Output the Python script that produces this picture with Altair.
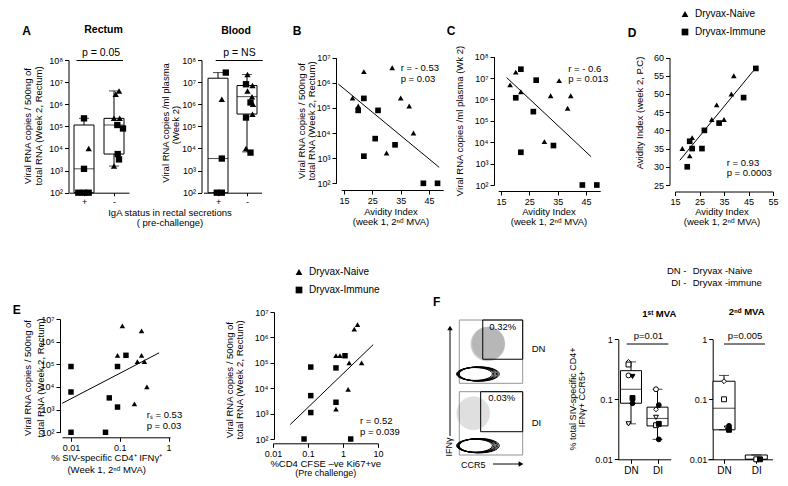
import altair as alt
import pandas as pd

FONT = "Liberation Sans"
W, H = 772, 470
MARGIN = 8


def px(v):
    return v - MARGIN


N = "Dryvax-Naive"
I = "Dryvax-Immune"

# ---------------- data ----------------
# Panel A - Rectum (box stats and points)
a_cats = ["+", "-"]
ar_q1 = [1e2, 5.6e3]
ar_med = [1.2e3, 1.15e5]
ar_q3 = [1.15e5, 2.3e5]
ar_lo = [1e2, 1.6e3]
ar_hi = [2.3e5, 4e6]
ar_pt_cat = ["+"] * 6 + ["-"] * 9
ar_pt_val = [2.3e5, 1e4, 1.2e3, 1e2, 1e2, 1e2,
             4e6, 2.8e6, 2.3e5, 2.3e5, 1.15e5, 8e4, 5.6e3, 3.2e3, 1.6e3]
ar_pt_grp = [I, N, I, I, I, I, N, N, N, N, I, I, I, I, N]
ar_pt_jit = [0, 0.47, 0, -0.57, 0, 0.47, 0.5, 0.17, 0, 0.57, 0.33, 0.9, 0.37, 0.5, 0]

# Panel A - Blood
ab_q1 = [1e2, 3.6e5]
ab_med = [3.5e3, 2.2e6]
ab_q3 = [1.5e7, 7e6]
ab_lo = [1e2, 7e3]
ab_hi = [2.7e7, 2.2e7]
ab_pt_cat = ["+"] * 5 + ["-"] * 11
ab_pt_val = [2.7e7, 1.7e6, 3.5e3, 1e2, 1e2,
             2.2e7, 8e6, 7e6, 4e6, 2.2e6, 1.2e6, 1e6, 3.5e5, 2.5e5, 1e4, 6.5e3]
ab_pt_grp = [I, N, I, I, I, N, I, N, N, N, I, N, N, I, N, I]
ab_pt_jit = [0.78, 0.38, 0.38, -0.12, 0.38, 0.05, -0.1, 0.55, 0.05, 0.5, 0.35, 0.6, 0.55, -0.1, -0.1, 0.35]

# Panel B
b_x = [22, 32, 18, 22, 20, 20, 27, 35, 38, 39.5, 26, 33, 30, 22, 43, 48]
b_y = [2.8e6, 4e6, 2.5e5, 2.4e5, 1.2e5, 8e4, 8e4, 2.5e5, 1.2e5, 1e4, 6e3, 3.4e3, 1.6e3, 1.2e3, 1e2, 1e2]
b_g = [N, N, N, I, N, I, I, N, N, N, I, I, N, I, I, I]
b_fit_x = [13, 48.6]
b_fit_y = [8.9e5, 4.3e2]

# Panel C
c_x = [18.2, 20.2, 22, 20.2, 22, 27.4, 35.5, 32.5, 39.6, 38.5, 26.4, 30.3, 33.5, 22, 43.7, 48.8]
c_y = [4.8e6, 1.9e7, 2.6e7, 1.2e6, 2.3e6, 8e6, 7.6e6, 1.5e6, 1.5e6, 3.9e5, 2.7e5, 1.07e4, 7e3, 3.4e3, 1e2, 1e2]
c_g = [N, N, I, I, N, I, N, N, N, N, I, N, I, I, I, I]
c_fit_x = [17, 46.8]
c_fit_y = [1.05e7, 2.1e3]

# Panel D
d_x = [48, 39, 38, 43, 32, 30, 35, 33, 27, 21, 22, 18, 22, 26, 21, 20]
d_y = [57, 55, 50, 49, 47, 43, 43, 42, 40, 37, 38, 35, 35, 35, 33, 30]
d_g = [I, N, N, I, N, N, N, I, I, I, N, N, I, I, N, I]
d_fit_x = [17, 47.3]
d_fit_y = [31.8, 56.6]

# Panel E (left)
e1_x = [0.01, 0.01, 0.01, 0.051, 0.061, 0.09, 0.09, 0.134, 0.09, 0.113, 0.28, 0.28, 0.23, 0.32, 0.36, 0.2]
e1_y = [8e4, 6e3, 1e2, 1e2, 3.3e3, 1.3e3, 8e4, 2.5e5, 2.5e5, 5e6, 3e6, 2.5e5, 1.3e5, 1.3e5, 1e4, 1.8e3]
e1_g = [I, I, I, I, I, I, I, I, N, N, N, N, N, N, N, N]
e1_fit_x = [0.0066, 0.64]
e1_fit_y = [1.9e3, 3.2e5]

# Panel E (right)
e2_x = [0.077, 1.66, 0.12, 0.12, 0.12, 0.63, 0.63, 0.63, 0.63, 0.82, 1.14, 1.5, 3.4, 1.4, 2.1, 2.6]
e2_y = [1e2, 1e2, 6.8e4, 5.1e3, 1.1e3, 6.3e4, 2.8e3, 1.5e3, 1.9e5, 1.9e5, 1.9e5, 1e5, 1e5, 9e3, 2.1e6, 3.2e6]
e2_g = [I, I, I, I, I, I, I, N, N, N, I, N, N, N, N, N]
e2_fit_x = [0.031, 7.3]
e2_fit_y = [3.7e2, 5.2e5]

# Panel F - box plots
f_cats = ["DN", "DI"]
f1_q1 = [0.086, 0.036]
f1_med = [0.147, 0.048]
f1_q3 = [0.30, 0.074]
f1_lo = [0.039, 0.0215]
f1_hi = [0.42, 0.147]
f1_pt_cat = ["DN"] * 7 + ["DI"] * 7
f1_pt_val = [0.42, 0.38, 0.25, 0.24, 0.105, 0.086, 0.039,
             0.147, 0.08, 0.068, 0.05, 0.037, 0.039, 0.0215]
f1_pt_sym = ["2", "4", "1", "3", "4", "1", "3", "1", "1", "2", "3", "4", "4", "1"]
f1_pt_fill = ["open", "open", "open", "filled", "filled", "filled", "open",
              "open", "filled", "open", "open", "open", "filled", "filled"]
f1_pt_jit = [-0.25, -0.25, -0.25, 0.15, 0.15, 0.15, -0.25, -0.15, 0.13, -0.15, -0.15, -0.15, 0.13, 0.13]

f2_q1 = [0.031, 0.01]
f2_med = [0.071, 0.01]
f2_q3 = [0.2, 0.0118]
f2_lo = [0.031, 0.01]
f2_hi = [0.25, 0.0118]
f2_pt_cat = ["DN"] * 5 + ["DI"] * 2
f2_pt_val = [0.2, 0.1, 0.033, 0.036, 0.031, 0.01, 0.01]
f2_pt_sym = ["2", "4", "3", "1", "4", "4", "4"]
f2_pt_fill = ["open", "open", "open", "filled", "filled", "open", "filled"]
f2_pt_jit = [0, 0, 0.27, 0.5, 0.5, 0, 0.37]

# Panel F - flow plots (units 0-100 on both axes)
flow_gate_x0 = [37, 33.7]
flow_gate_y0 = [38, 36.8]
flow_cont_x = [31.5, 30, 28.5, 27, 25.5, 24]
flow_cont_y = [14.7, 14.7, 14.7, 14.7, 14.7, 14.7]
flow_cont_lvl = ["k1", "k2", "k3", "k4", "k5", "k6"]
flow_cloud_top_x = [45, 45, 46]
flow_cloud_top_y = [62, 62, 63]
flow_cloud_bot_x = [22, 22]
flow_cloud_bot_y = [66, 66]
flow_cloud_lvl = ["c1", "c2", "c3"]

# ---------------- helpers ----------------
dummy = pd.DataFrame({"d": [0]})
SHAPE_AE = alt.Scale(domain=[N, I], range=["triangle-up", "square"])
F_SHAPE = alt.Scale(domain=["1", "2", "3", "4"], range=["circle", "diamond", "triangle-down", "square"])
F_FILL = alt.Scale(domain=["open", "filled"], range=["white", "black"])
JIT = alt.Scale(domain=[-1, 1], range=[-10, 10])
ELLIPSE = "M -1 0 A 1 0.36 0 1 0 1 0 A 1 0.36 0 1 0 -1 0 Z"
SIZE_SCALE = alt.Scale(domain=["k1", "k2", "k3", "k4", "k5", "k6", "c1", "c2", "c3"],
                       range=[1600, 1089, 676, 361, 144, 36, 260, 110, 30])
POW = "'10' + ['⁰','¹','²','³','⁴','⁵','⁶','⁷','⁸','⁹'][round(log(datum.value) / LN10)]"


def T(s, x, y, size=9.5, bold=False, align="center", angle=0):
    return alt.Chart(dummy).mark_text(
        text=s, fontSize=size, fontWeight="bold" if bold else "normal",
        align=align, baseline="middle", angle=angle, font=FONT, color="black"
    ).encode(x=alt.value(px(x)), y=alt.value(px(y)))


def R(x1, x2, y1, y2):
    return alt.Chart(dummy).mark_rule(color="black", strokeWidth=1).encode(
        x=alt.value(px(x1)), x2=alt.value(px(x2)), y=alt.value(px(y1)), y2=alt.value(px(y2)))


def yax(xpos, values, expr=None, fmt=None):
    kw = dict(orient="left", offset=-px(xpos), values=values, title=None, labelFlush=False)
    if expr:
        kw["labelExpr"] = expr
    if fmt:
        kw["format"] = fmt
    return alt.Axis(**kw)


def xax(ypos, values=None, fmt=None, size=9, tick=4):
    kw = dict(orient="bottom", offset=px(ypos) - H, title=None, labelFlush=False, labelAngle=0,
              labelFontSize=size, tickSize=tick)
    if values is not None:
        kw["values"] = values
    if fmt:
        kw["format"] = fmt
    return alt.Axis(**kw)


def logs(domain, r):
    return alt.Scale(type="log", domain=domain, range=[px(r[0]), px(r[1])], nice=False)


def lins(domain, r):
    return alt.Scale(type="linear", domain=domain, range=[px(r[0]), px(r[1])], nice=False, zero=False)


def pts(domain, r):
    return alt.Scale(type="point", domain=domain, range=[px(r[0]), px(r[1])], padding=0.5)


def box_panel(cats, q1, med, q3, lo, hi, pdf, xs, ys, xa, ya, bw, cap, kind):
    bdf = pd.DataFrame({"cat": cats, "q1": q1, "med": med, "q3": q3, "lo": lo, "hi": hi})
    X = alt.X("cat:N", scale=xs, axis=xa)

    def Y(f):
        return alt.Y(f + ":Q", scale=ys, axis=ya)

    base = alt.Chart(bdf)
    layers = [
        base.mark_rule(color="black", strokeWidth=1).encode(x=X, y=Y("q3"), y2="hi:Q"),
        base.mark_rule(color="black", strokeWidth=1).encode(x=X, y=Y("lo"), y2="q1:Q"),
        base.mark_bar(size=bw, fill="white", stroke="black", strokeWidth=1).encode(x=X, y=Y("q1"), y2="q3:Q"),
        base.mark_tick(orient="horizontal", size=bw, thickness=1, color="black").encode(x=X, y=Y("med")),
        base.mark_tick(orient="horizontal", size=cap, thickness=1, color="black").encode(x=X, y=Y("hi")),
        base.mark_tick(orient="horizontal", size=cap, thickness=1, color="black").encode(x=X, y=Y("lo")),
    ]
    if kind == "ae":
        p = alt.Chart(pdf).mark_point(filled=True, color="black", size=40, opacity=1).encode(
            x=X, xOffset=alt.XOffset("j:Q", scale=JIT), y=Y("v"),
            shape=alt.Shape("g:N", scale=SHAPE_AE, legend=None))
    else:
        p = alt.Chart(pdf).mark_point(size=24, stroke="black", strokeWidth=1, opacity=1).encode(
            x=X, xOffset=alt.XOffset("j:Q", scale=JIT), y=Y("v"),
            shape=alt.Shape("s:N", scale=F_SHAPE, legend=None),
            fill=alt.Fill("f:N", scale=F_FILL, legend=None))
    layers.append(p)
    return alt.layer(*layers)


def scatter_panel(x, y, g, fx, fy, xs, ys, xa, ya, size, legend):
    df = pd.DataFrame({"x": x, "y": y, "g": g})
    ldf = pd.DataFrame({"x": fx, "y": fy})
    X = alt.X("x:Q", scale=xs, axis=xa)
    Y = alt.Y("y:Q", scale=ys, axis=ya)
    line = alt.Chart(ldf).mark_line(color="black", strokeWidth=1).encode(x=X, y=Y)
    shp = alt.Shape("g:N", scale=SHAPE_AE, legend=legend) if legend is not None else \
        alt.Shape("g:N", scale=SHAPE_AE, legend=None)
    p = alt.Chart(df).mark_point(filled=True, color="black", size=size, opacity=1).encode(x=X, y=Y, shape=shp)
    return alt.layer(line, p)


def legend_at(x, y):
    return alt.Legend(orient="none", legendX=px(x), legendY=px(y), title=None, labelFont=FONT,
                      labelFontSize=10, labelColor="black", symbolSize=45, symbolFillColor="black",
                      symbolStrokeColor="black", rowPadding=5, labelOffset=5)


def flow_panel(yr, gx0, gy0, cloud_x, cloud_y, cloud_lvl, cloud_op):
    xs = lins([0, 100], [459.3, 522.7])
    ys = lins([0, 100], yr)
    X = lambda f: alt.X(f + ":Q", scale=xs, axis=None)
    Y = lambda f: alt.Y(f + ":Q", scale=ys, axis=None)
    frame = alt.Chart(pd.DataFrame({"x0": [0], "x1": [100], "y0": [0], "y1": [100]})).mark_rect(
        fillOpacity=0, stroke="#777", strokeWidth=0.8).encode(x=X("x0"), x2="x1:Q", y=Y("y0"), y2="y1:Q")
    cloud = alt.Chart(pd.DataFrame({"x": cloud_x, "y": cloud_y, "lvl": cloud_lvl})).mark_point(
        shape="circle", filled=True, color="#777", opacity=cloud_op).encode(
        x=X("x"), y=Y("y"), size=alt.Size("lvl:O", scale=SIZE_SCALE, legend=None))
    cont = alt.Chart(pd.DataFrame({"x": flow_cont_x, "y": flow_cont_y, "lvl": flow_cont_lvl})).mark_point(
        shape=ELLIPSE, filled=False, color="black", strokeWidth=1, opacity=1).encode(
        x=X("x"), y=Y("y"), size=alt.Size("lvl:O", scale=SIZE_SCALE, legend=None))
    gate = alt.Chart(pd.DataFrame({"x0": [gx0], "x1": [100], "y0": [gy0], "y1": [100]})).mark_rect(
        fillOpacity=0, stroke="black", strokeWidth=1).encode(x=X("x0"), x2="x1:Q", y=Y("y0"), y2="y1:Q")
    return alt.layer(frame, cloud, cont, gate)


layers = []

# ---- Panel A ----
ar_pdf = pd.DataFrame({"cat": ar_pt_cat, "v": ar_pt_val, "g": ar_pt_grp, "j": ar_pt_jit})
layers.append(box_panel(a_cats, ar_q1, ar_med, ar_q3, ar_lo, ar_hi, ar_pdf,
                        pts(a_cats, [69, 129]), logs([1e2, 1e8], [192.7, 60]),
                        xax(192.7, size=9, tick=3), yax(68.5, [1e2, 1e3, 1e4, 1e5, 1e6, 1e7, 1e8], POW),
                        20, 10, "ae"))
ab_pdf = pd.DataFrame({"cat": ab_pt_cat, "v": ab_pt_val, "g": ab_pt_grp, "j": ab_pt_jit})
layers.append(box_panel(a_cats, ab_q1, ab_med, ab_q3, ab_lo, ab_hi, ab_pdf,
                        pts(a_cats, [203.5, 261.5]), logs([1e2, 1e8], [192.7, 60]),
                        xax(192.7, size=9, tick=3), yax(201.5, [1e2, 1e3, 1e4, 1e5, 1e6, 1e7, 1e8], POW),
                        20, 10, "ae"))

# ---- Panel B ----
layers.append(scatter_panel(b_x, b_y, b_g, b_fit_x, b_fit_y,
                            lins([14, 50], [341.2, 443.2]), logs([1e2, 1e7], [183.3, 57.7]),
                            xax(190, [15, 25, 35, 45]), yax(336, [1e2, 1e3, 1e4, 1e5, 1e6, 1e7], POW),
                            32, None))
# ---- Panel C ----
layers.append(scatter_panel(c_x, c_y, c_g, c_fit_x, c_fit_y,
                            lins([14, 50], [498.2, 600.2]), logs([1e2, 1e8], [185, 56.7]),
                            xax(191, [15, 25, 35, 45]), yax(494, [1e2, 1e3, 1e4, 1e5, 1e6, 1e7, 1e8], POW),
                            32, None))
# ---- Panel D ----
layers.append(scatter_panel(d_x, d_y, d_g, d_fit_x, d_fit_y,
                            lins([15, 55], [675, 773]), lins([25, 60], [185, 57.5]),
                            xax(191.5, [15, 25, 35, 45, 55]), yax(669.5, [25, 30, 35, 40, 45, 50, 55, 60]),
                            32, legend_at(680, 9)))
# ---- Panel E ----
layers.append(scatter_panel(e1_x, e1_y, e1_g, e1_fit_x, e1_fit_y,
                            logs([0.00654, 1.073], [62, 170]), logs([1e2, 1e7], [432.3, 319]),
                            xax(437.3, [0.01, 0.1, 1], "~g"), yax(60, [1e2, 1e3, 1e4, 1e5, 1e6, 1e7], POW),
                            30, None))
layers.append(scatter_panel(e2_x, e2_y, e2_g, e2_fit_x, e2_fit_y,
                            logs([0.01, 10], [273, 378]), logs([1e2, 1e7], [439, 312]),
                            xax(443.3, [0.01, 0.1, 1, 10], "~g"), yax(274, [1e2, 1e3, 1e4, 1e5, 1e6, 1e7], POW),
                            30, legend_at(294, 267)))

# ---- Panel F ----
f1_pdf = pd.DataFrame({"cat": f1_pt_cat, "v": f1_pt_val, "s": f1_pt_sym, "f": f1_pt_fill, "j": f1_pt_jit})
layers.append(box_panel(f_cats, f1_q1, f1_med, f1_q3, f1_lo, f1_hi, f1_pdf,
                        pts(f_cats, [617.75, 670.75]), logs([0.01, 1], [459.3, 339.3]),
                        xax(459.3, size=10), yax(618.3, [0.01, 0.1, 1], fmt="~g"), 21, 10, "f"))
f2_pdf = pd.DataFrame({"cat": f2_pt_cat, "v": f2_pt_val, "s": f2_pt_sym, "f": f2_pt_fill, "j": f2_pt_jit})
layers.append(box_panel(f_cats, f2_q1, f2_med, f2_q3, f2_lo, f2_hi, f2_pdf,
                        pts(f_cats, [707.85, 772.45]), logs([0.01, 1], [459.3, 339.3]),
                        xax(459.3, size=10), yax(712.7, [0.01, 0.1, 1], fmt="~g"), 22, 10, "f"))
layers.append(flow_panel([383.3, 320], flow_gate_x0[0], flow_gate_y0[0],
                         flow_cloud_top_x, flow_cloud_top_y, flow_cloud_lvl, 0.22))
layers.append(flow_panel([455, 391.7], flow_gate_x0[1], flow_gate_y0[1],
                         flow_cloud_bot_x, flow_cloud_bot_y, flow_cloud_lvl[1:], 0.12))

# ---- annotations ----
ann = [
    T("A", 26.5, 31, 12, True), T("Rectum", 103.5, 29.5, 10.5, True), T("Blood", 236, 30.7, 10.5, True),
    T("p = 0.05", 101, 52.5, 10.5), T("p = NS", 239.5, 52.5, 10.5),
    R(76.5, 123, 60.5, 60.5), R(215.7, 262.7, 60.5, 60.5),
    T("Viral RNA copies / 500ng of", 28.3, 126, 9.5, angle=270),
    T("total RNA (Week 2, Rectum)", 38.8, 126, 9.5, angle=270),
    T("Viral RNA copies /ml plasma", 165.7, 123, 9.5, angle=270),
    T("(Week 2)", 175.5, 125, 9.5, angle=270),
    T("IgA status in rectal secretions", 170, 212.5, 9.5), T("( pre-challenge)", 170, 222.5, 9.5),

    T("B", 297, 31, 12, True),
    T("Viral RNA copies / 500ng of", 301.7, 121, 9.5, angle=270),
    T("total RNA (Week 2, Rectum)", 311.7, 121, 9.5, angle=270),
    T("Avidity Index", 391, 211.7, 9.5), T("(week 1, 2ⁿᵈ MVA)", 391, 221.7, 9.5),
    T("r  = - 0.53", 400.7, 67.5, 9.5, align="left"), T("p = 0.03", 400.7, 78.5, 9.5, align="left"),

    T("C", 451, 31, 12, True),
    T("Viral RNA copies /ml plasma (Wk 2)", 460, 121, 9.5, angle=270),
    T("Avidity Index", 549, 211.7, 9.5), T("(week 1, 2ⁿᵈ MVA)", 549, 221.7, 9.5),
    T("r  = - 0.6", 568.3, 69, 9.5, align="left"), T("p = 0.013", 568.3, 79.3, 9.5, align="left"),

    T("D", 632, 33, 12, True),
    T("Avidity Index (week 2, P.C)", 640, 113, 9.5, angle=270),
    T("Avidity Index", 722, 211.7, 9.5), T("(week 1, 2ⁿᵈ MVA)", 722, 221.7, 9.5),
    T("r = 0.93", 726.7, 162.7, 9.5, align="left"), T("p = 0.0003", 726.7, 173.3, 9.5, align="left"),

    T("E", 16.7, 310, 12, True),
    T("Viral RNA copies / 500ng of", 28.3, 378, 9.5, angle=270),
    T("total RNA (Week 2, Rectum)", 40.5, 378, 9.5, angle=270),
    T("% SIV-specific CD4⁺ IFNγ⁺", 106.7, 458.3, 9.5), T("(Week 1, 2ⁿᵈ MVA)", 106.7, 469.5, 9.5),
    T("rₛ = 0.53", 146.7, 415, 9.5, align="left"), T("p = 0.03", 146.7, 425.7, 9.5, align="left"),
    T("Viral RNA copies / 500ng of", 230, 380, 9.5, angle=270),
    T("total RNA (Week 2, Rectum)", 239.8, 380, 9.5, angle=270),
    T("%CD4 CFSE –ve Ki67+ve", 325.7, 463.5, 9.5), T("(Pre challenge)", 325.7, 472.8, 9),
    T("r = 0.52", 360, 420.7, 9.5, align="left"), T("p = 0.039", 360, 432.3, 9.5, align="left"),

    T("F", 436.7, 301.7, 12, True),
    T("DN -", 686.5, 270.7, 9.5, align="right"), T("Dryvax -Naive", 692.7, 270.7, 9.5, align="left"),
    T("DI -", 686.5, 283.3, 9.5, align="right"), T("Dryvax -immune", 692.7, 283.3, 9.5, align="left"),
    T("1ˢᵗ MVA", 659.3, 314, 9.5, True), T("2ⁿᵈ MVA", 746.7, 312, 9.5, True),
    T("p=0.01", 648.3, 336, 9.5), T("p=0.005", 745, 336, 9.5),
    R(626.7, 668.3, 344, 344), R(724, 765, 344, 344),
    T("% total SIV-specific CD4+", 573.3, 399, 9, angle=270),
    T("IFNγ+ CCR5+", 582, 399, 9, angle=270),
    T("0.32%", 502.7, 326.7, 9.5), T("DN", 531.7, 349, 9.5, align="left"),
    T("0.03%", 501.7, 398.3, 9.5), T("DI", 531.7, 423.3, 9.5, align="left"),
    T("IFNγ", 448.5, 447, 9, angle=270), T("CCR5", 473.3, 464.5, 9),
    R(450, 450, 330, 436), R(493, 520, 464, 464),
    alt.Chart(dummy).mark_point(shape="triangle-up", filled=True, color="black", size=30, opacity=1).encode(
        x=alt.value(px(450)), y=alt.value(px(328))),
    alt.Chart(dummy).mark_point(shape="triangle-right", filled=True, color="black", size=30, opacity=1).encode(
        x=alt.value(px(521)), y=alt.value(px(464))),
]
layers.extend(ann)

chart = alt.layer(*layers).properties(
    width=W, height=H, autosize=alt.AutoSizeParams(type="none"), padding=0
).resolve_scale(
    x="independent", y="independent", shape="independent"
).configure_view(stroke=None).configure_axis(
    domainColor="black", tickColor="black", labelColor="black", labelFont=FONT, labelFontSize=9,
    tickSize=4, domainWidth=1, tickWidth=1, grid=False, labelPadding=2, titleFont=FONT
)

chart.save("out.html", embed_options={"renderer": "svg", "actions": False})
